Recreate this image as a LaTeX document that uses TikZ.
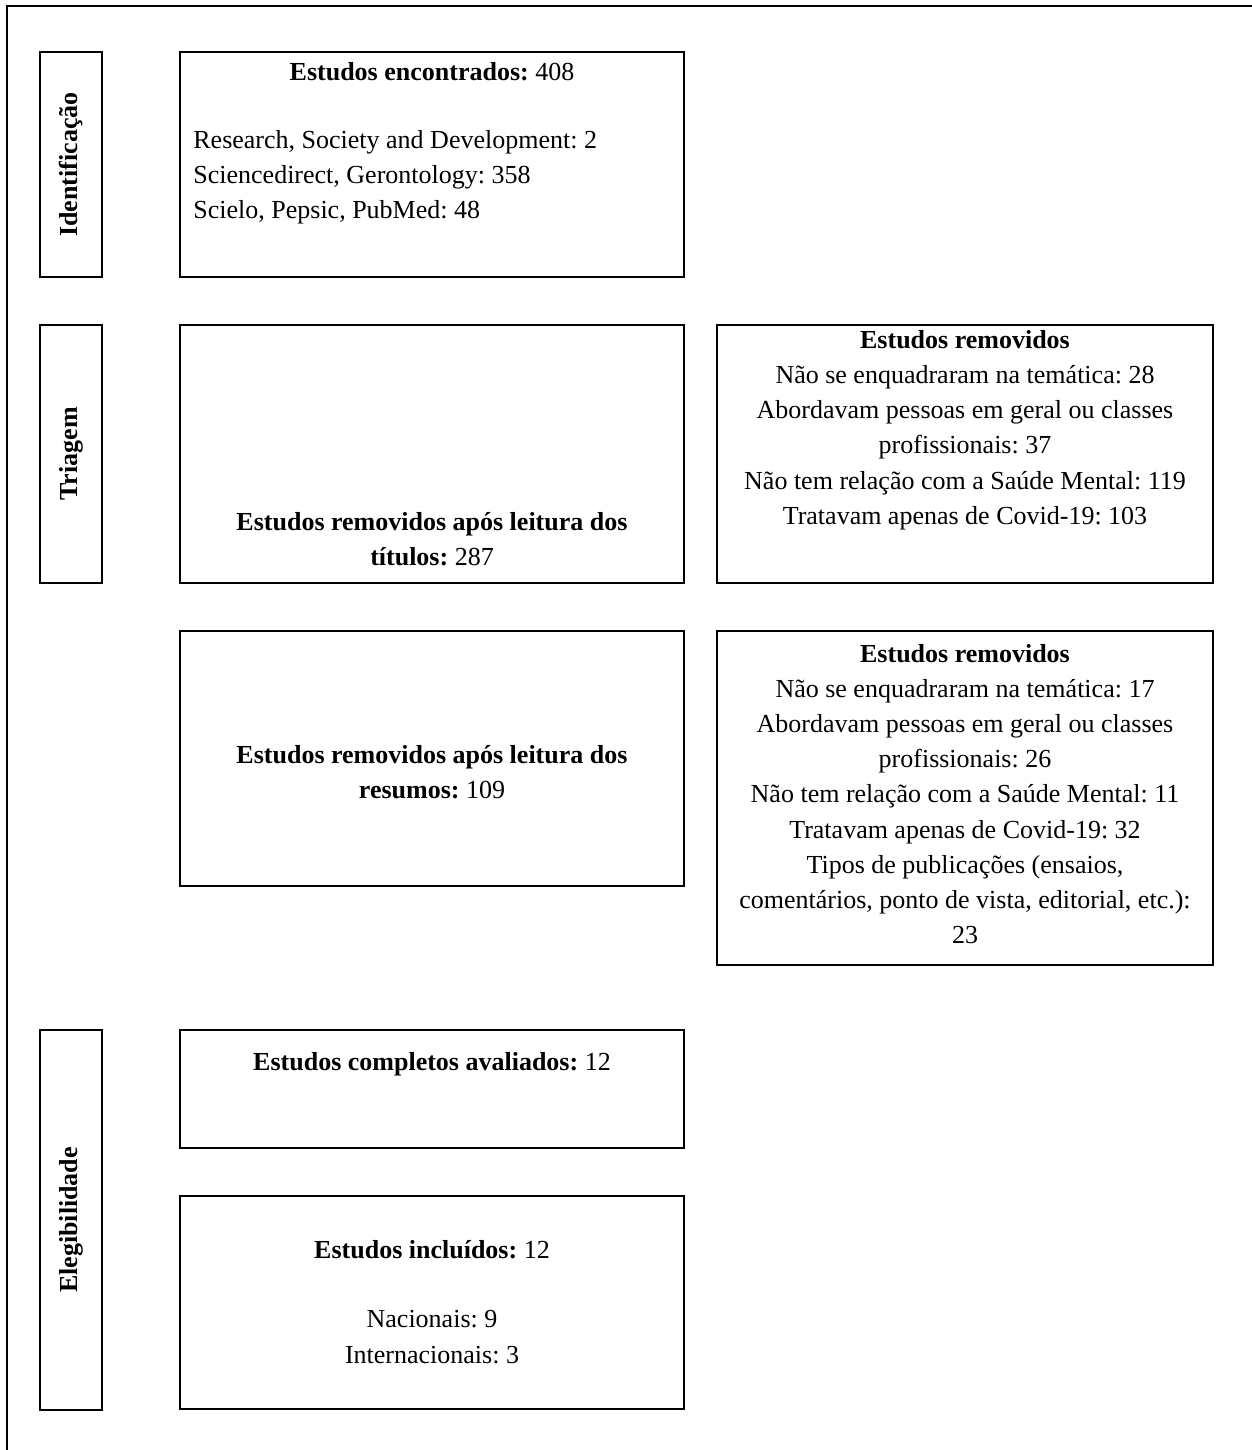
\documentclass[tikz,border=0pt]{standalone}
\usepackage{fontspec}
\setmainfont{Liberation Serif}
\usetikzlibrary{fit}
\frenchspacing
\begin{document}
\begin{tikzpicture}[x=0.5pt,y=-0.5pt,
  box/.style={draw, line width=0.9pt, inner sep=0pt},
  lbl/.style={inner sep=0pt, rotate=90, font=\fontsize{13}{17.6}\selectfont\bfseries},
  txt/.style={inner sep=0pt, align=center, font=\fontsize{13}{17.6}\selectfont},
  ltxt/.style={inner sep=0pt, align=left, font=\fontsize{13}{17.6}\selectfont}]
\useasboundingbox (0,0) rectangle (1252,1450);
% outer frame (top and left edges)
\coordinate (fbl) at (7,1450);
\coordinate (ftl) at (7,6);
\coordinate (ftr) at (1252,6);
\draw[line width=1.2pt] (fbl) -- (ftl) -- (ftr);

% phase labels
\node[box, fit={(40,52) (102,277)}] (pid) {};
\node[lbl] (tid) at (pid.center) {Identificação};
\node[box, fit={(40,325) (102,583)}] (ptr) {};
\node[lbl] (ttr) at (ptr.center) {Triagem};
\node[box, fit={(40,1030) (102,1410)}] (pel) {};
\node[lbl] (tel) at (pel.center) {Elegibilidade};

% boxes
\node[box, fit={(180,52) (684,277)}] (b1) {};
\node[txt] (b1t) at (432,72) {\textbf{Estudos encontrados:} 408};
\node[ltxt, anchor=west] (b1l) at (193,177) {Research, Society and Development: 2\\Sciencedirect, Gerontology: 358\\Scielo, Pepsic, PubMed: 48};

\node[box, fit={(180,325) (684,583)}] (b2) {};
\node[txt] (b2t) at (432,539) {\textbf{Estudos removidos após leitura dos}\\\textbf{títulos:} 287};

\node[box, fit={(717,325) (1213,583)}] (b3) {};
\node[txt] (b3t) at (965,430) {\textbf{Estudos removidos}\\Não se enquadraram na temática: 28\\Abordavam pessoas em geral ou classes\\profissionais: 37\\Não tem relação com a Saúde Mental: 119\\Tratavam apenas de Covid-19: 103};

\node[box, fit={(180,631) (684,886)}] (b4) {};
\node[txt] (b4t) at (432,772) {\textbf{Estudos removidos após leitura dos}\\\textbf{resumos:} 109};

\node[box, fit={(717,631) (1213,965)}] (b5) {};
\node[txt] (b5t) at (965,794) {\textbf{Estudos removidos}\\Não se enquadraram na temática: 17\\Abordavam pessoas em geral ou classes\\profissionais: 26\\Não tem relação com a Saúde Mental: 11\\Tratavam apenas de Covid-19: 32\\Tipos de publicações (ensaios,\\comentários, ponto de vista, editorial, etc.):\\23};

\node[box, fit={(180,1030) (684,1148)}] (b6) {};
\node[txt] (b6t) at (432,1064) {\textbf{Estudos completos avaliados:} 12};

\node[box, fit={(180,1196) (684,1409)}] (b7) {};
\node[txt] (b7t) at (432,1250) {\textbf{Estudos incluídos:} 12};
\node[txt] (b7l) at (432,1337) {Nacionais: 9\\Internacionais: 3};
\end{tikzpicture}
\end{document}
